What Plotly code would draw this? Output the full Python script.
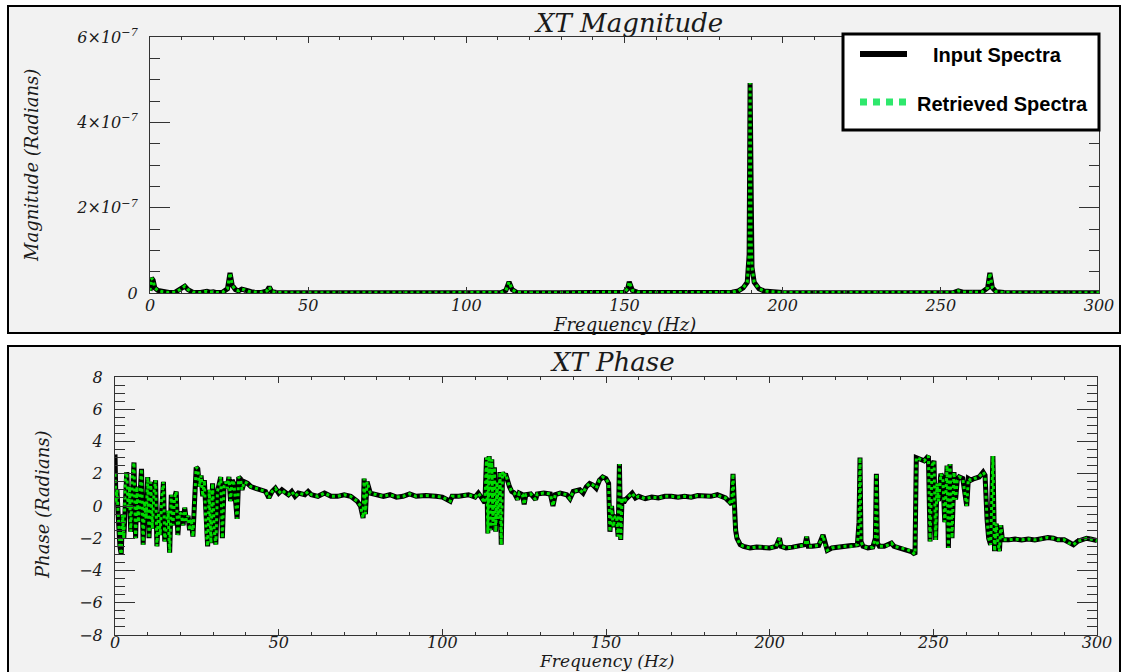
import plotly.graph_objects as go

W, H = 1122, 672

# ---------------- data ----------------
# Magnitude spectrum: frequency (Hz) and magnitude in units of 1e-7 radians
mag_freq = [0, 0.5, 1.0, 1.5, 2.5, 4, 6, 8, 10, 11, 12, 13.5, 16, 18, 19, 20, 21, 23,
            24.5, 25.3, 26, 27, 28, 29, 30, 31, 32, 33, 35, 37, 37.7, 38.5, 40, 50, 65,
            66, 67, 85, 86, 87, 100, 111, 112.5, 113.5, 114.5, 116, 130, 150, 151,
            151.5, 152.5, 154, 157, 170, 180, 184, 186, 187.5, 188.8, 189.4, 189.7,
            190.0, 190.3, 191, 192.5, 194, 196, 200, 220, 254, 255.5, 257, 263, 264.8,
            265.5, 266.3, 267.5, 270, 285, 300]
mag_input_e7 = [0.05, 0.35, 0.30, 0.12, 0.06, 0.03, 0.01, 0.02, 0.10, 0.16, 0.08, 0.02,
                0.01, 0.04, 0.02, 0.03, 0.01, 0.02, 0.10, 0.47, 0.18, 0.08, 0.05, 0.09,
                0.07, 0.04, 0.03, 0.02, 0.01, 0.05, 0.14, 0.03, 0.01, 0.005, 0.005, 0.02,
                0.005, 0.005, 0.02, 0.005, 0.005, 0.01, 0.06, 0.26, 0.08, 0.01, 0.005,
                0.02, 0.10, 0.26, 0.06, 0.02, 0.01, 0.005, 0.01, 0.02, 0.05, 0.12, 0.25,
                0.90, 4.92, 1.64, 0.60, 0.25, 0.10, 0.05, 0.03, 0.01, 0.005, 0.01, 0.05,
                0.02, 0.02, 0.12, 0.47, 0.12, 0.03, 0.01, 0.005, 0.005]
mag_retrieved_e7 = [0.05, 0.35, 0.30, 0.12, 0.06, 0.03, 0.01, 0.02, 0.10, 0.16, 0.08, 0.02,
                    0.01, 0.04, 0.02, 0.03, 0.01, 0.02, 0.10, 0.47, 0.18, 0.08, 0.05, 0.09,
                    0.07, 0.04, 0.03, 0.02, 0.01, 0.05, 0.14, 0.03, 0.01, 0.005, 0.005, 0.02,
                    0.005, 0.005, 0.02, 0.005, 0.005, 0.01, 0.06, 0.26, 0.08, 0.01, 0.005,
                    0.02, 0.10, 0.26, 0.06, 0.02, 0.01, 0.005, 0.01, 0.02, 0.05, 0.12, 0.25,
                    0.90, 4.92, 1.30, 0.60, 0.25, 0.10, 0.05, 0.03, 0.01, 0.005, 0.01, 0.05,
                    0.02, 0.02, 0.12, 0.47, 0.12, 0.03, 0.01, 0.005, 0.005]

# Phase spectrum: frequency (Hz) and phase (radians)
phase_freq = [0.0, 0.3, 0.6, 0.9, 1.2, 1.5, 1.9, 2.3, 2.7, 3.2, 3.6, 4.0, 4.4, 4.8, 5.3,
              5.8, 6.3, 6.7, 7.2, 7.7, 8.1, 8.6, 9.0, 9.5, 10.0, 10.4, 10.9, 11.4, 11.9,
              12.4, 12.8, 13.3, 13.8, 14.3, 14.8, 15.2, 15.7, 16.2, 16.7, 17.2, 17.7,
              18.2, 18.7, 19.2, 19.7, 20.2, 20.8, 21.3, 21.8, 22.3, 22.8, 23.3, 23.8,
              24.3, 24.8, 25.3, 25.8, 26.3, 26.8, 27.3, 27.8, 28.3, 28.8, 29.3, 29.8,
              30.3, 30.8, 31.3, 31.8, 32.3, 32.8, 33.3, 33.8, 34.3, 34.8, 35.3, 35.8,
              36.3, 36.8, 37.3, 37.8, 38.3, 38.8, 39.5, 40.5, 41.5, 43, 44.5, 46, 47,
              48, 49, 50, 51, 52, 53, 54, 55, 56, 58, 59, 60, 62, 64, 66, 68, 70, 72,
              74, 75, 75.8, 76.1, 76.5, 77, 78, 80, 82, 84, 86, 88, 90, 92, 95, 98, 100,
              102.4, 103, 105, 108, 110, 111, 112, 113, 113.5, 113.9, 114.3, 114.7,
              115.1, 115.5, 115.9, 116.3, 116.7, 117.1, 117.6, 118.0, 118.4, 118.8,
              119.3, 119.8, 120.5, 121.2, 122, 123, 123.5, 124.5, 125, 125.5, 127,
              128.5, 129, 131, 133, 133.8, 134.5, 136, 138, 139, 140, 142, 143, 144,
              145, 146, 147, 148, 149, 150, 150.8, 151.2, 151.7, 152.2, 152.7, 153.2,
              153.7, 154.1, 154.5, 154.9, 155.4, 156, 157, 158, 159, 160, 162, 164, 166,
              168, 170, 172, 174, 176, 178, 180, 182, 184, 185, 186.5, 187.5, 188.4,
              188.8, 189.2, 189.6, 190, 191, 192, 194, 196, 198, 200, 202, 203, 203.5,
              205, 207, 209, 210.8, 211.3, 211.8, 213, 215, 216.3, 216.9, 217.6, 219,
              221, 223, 225, 226.8, 227.3, 227.6, 227.9, 228.5, 230, 231.5, 232.3, 232.6,
              232.9, 233.5, 235, 236.5, 237.2, 238, 240, 242, 243.5, 244.4, 244.8, 246,
              247.2, 248.5, 249.0, 249.6, 250.2, 250.7, 251.1, 251.6, 252.3, 252.9,
              253.5, 254.2, 254.6, 255.1, 255.7, 256.3, 256.8, 257.3, 257.9, 259, 260.2,
              260.7, 261.5, 262.5, 264, 265.2, 265.8, 266.4, 266.9, 267.5, 268.2, 268.7,
              269.2, 269.7, 270.2, 270.6, 271.1, 273, 275, 277, 279, 281, 283, 285,
              286.7, 288, 290, 291.5, 292.8, 294, 295.5, 296.8, 298, 300]
phase_input = [3.2, 0.2, 1.0, -0.3, -1.8, -2.5, -3.0, -0.5, -2.0, 1.9, 2.1, -0.2, 1.2,
               -1.6, 1.8, 2.7, -2.0, 1.2, -1.0, 0.5, 2.3, -2.4, 0.3, -0.8, 1.8, -2.0, 1.5,
               -1.4, 0.8, 1.6, -2.5, -0.4, -1.8, 0.6, 1.5, -2.2, -1.0, -0.3, -2.9, 0.7,
               -1.2, 0.5, 0.9, -1.8, -0.4, -0.5, -1.2, -0.1, -0.9, -0.6, -1.5, -0.8, -1.9,
               0.5, 2.4, 2.3, 1.2, 1.9, 0.6, 1.6, -1.4, -2.5, 1.0, -2.3, 1.4, -1.5, -2.4,
               0.9, 1.4, 1.8, -2.0, 1.2, 1.5, 1.1, 1.8, 0.3, 1.6, 1.4, 0.4, -0.8, 1.8, 1.7,
               1.0, 1.5, 1.4, 1.2, 1.1, 1.0, 0.9, 0.5, 0.9, 1.1, 0.8, 1.0, 0.8, 0.7, 0.9,
               0.6, 0.8, 0.7, 0.9, 0.7, 0.6, 0.8, 0.6, 0.6, 0.7, 0.6, 0.3, 0.0, -0.75,
               1.7, -0.5, 1.5, 0.8, 0.7, 0.6, 0.7, 0.55, 0.6, 0.75, 0.6, 0.65, 0.6, 0.55,
               0.3, 0.6, 0.6, 0.7, 0.55, 0.8, 0.5, 0.2, 3.0, -1.7, 3.1, -1.5, 2.9, -1.2,
               2.4, -1.6, 1.5, -0.8, 2.1, -2.4, 2.1, 1.8, 2.0, 1.6, 1.2, 0.9, 0.8, 0.4,
               0.8, 0.7, 0.1, 0.7, 0.75, 0.4, 0.75, 0.8, 0.75, 0.0, 0.7, 0.8, 0.7, 0.45,
               0.9, 1.0, 0.8, 1.2, 1.4, 1.3, 1.1, 1.6, 1.8, 1.7, 1.4, -1.6, 0.0, -1.3,
               -0.7, -0.6, -1.9, 2.6, -2.1, 0.5, 0.2, 0.4, 0.6, 0.8, 0.5, 0.6, 0.45, 0.55,
               0.5, 0.6, 0.6, 0.55, 0.6, 0.55, 0.65, 0.6, 0.6, 0.7, 0.6, 0.5, 0.3, 0.1,
               2.0, -0.5, -1.5, -2.0, -2.4, -2.5, -2.6, -2.55, -2.55, -2.6, -2.5, -2.0,
               -2.5, -2.6, -2.55, -2.5, -2.4, -1.9, -2.5, -2.5, -2.45, -1.8, -2.4, -2.75,
               -2.6, -2.55, -2.5, -2.5, -2.4, -1.0, 3.0, -2.2, -2.5, -2.6, -2.55, -2.0,
               2.0, -2.3, -2.5, -2.5, -2.4, -2.3, -2.5, -2.6, -2.7, -2.85, -3.0, 3.0, 2.9,
               2.8, 3.1, -2.2, 2.5, 2.8, -2.1, 1.4, 0.3, 2.0, 1.7, -1.0, 2.5, -2.6, 2.6,
               -2.0, 2.1, 0.4, 1.6, 1.8, 1.7, 0.0, 1.7, 1.6, 1.7, 1.8, 2.1, 1.9, -0.8,
               -2.0, -2.4, 3.1, -2.8, -1.1, -2.2, -2.8, -1.2, -2.1, -2.1, -2.05, -2.1,
               -2.05, -2.1, -2.05, -1.95, -2.0, -2.1, -2.1, -2.3, -2.4, -2.2, -2.1, -2.0,
               -2.05, -2.15]
phase_retrieved = [2.0] + phase_input[1:]

legend_labels = ["Input Spectra", "Retrieved Spectra"]
mag_ticks_e7 = [0, 2, 4, 6]
mag_ticktext = ["0", "2×10<sup>−7</sup>", "4×10<sup>−7</sup>", "6×10<sup>−7</sup>"]
phase_ticks = [-8, -6, -4, -2, 0, 2, 4, 6, 8]
phase_ticktext = ["−8", "−6", "−4", "−2", "0", "2", "4", "6", "8"]
freq_ticks = [0, 50, 100, 150, 200, 250, 300]

# ---------------- styling ----------------
BOX_BG = "#f2f2f2"
GREEN = "#00dc00"
LEG_GREEN = "#2ee86c"
AX = "#333333"
SERIF = "DejaVu Serif"
TXT = "#1a1a1a"


def px(x):
    return x / W


def py(y):
    return 1 - y / H


fig = go.Figure()

fig.add_trace(go.Scatter(x=mag_freq, y=[v * 1e-7 for v in mag_input_e7], mode="lines",
                         line=dict(color="black", width=5), xaxis="x", yaxis="y",
                         showlegend=False, name=legend_labels[0]))
fig.add_trace(go.Scatter(x=mag_freq, y=[v * 1e-7 for v in mag_retrieved_e7], mode="lines",
                         line=dict(color=GREEN, width=3, dash="dot"), xaxis="x", yaxis="y",
                         showlegend=False, name=legend_labels[1]))
fig.add_trace(go.Scatter(x=phase_freq, y=phase_input, mode="lines",
                         line=dict(color="black", width=5), xaxis="x2", yaxis="y2",
                         showlegend=False, name=legend_labels[0]))
fig.add_trace(go.Scatter(x=phase_freq, y=phase_retrieved, mode="lines",
                         line=dict(color=GREEN, width=3, dash="dot"), xaxis="x2", yaxis="y2",
                         showlegend=False, name=legend_labels[1]))

tickfont = dict(family=SERIF, size=16, color=TXT, style="italic")

common_x = dict(range=[0, 300], tickvals=freq_ticks, ticks="inside", ticklen=6,
                tickwidth=1, tickcolor=AX, showline=True, linecolor=AX, linewidth=1,
                mirror="ticks", showgrid=False, zeroline=False, tickfont=tickfont,
                automargin=False, fixedrange=True,
                minor=dict(dtick=10, ticks="inside", ticklen=3, tickcolor=AX, showgrid=False))

common_y = dict(ticks="inside", ticklen=20, tickwidth=1, tickcolor=AX, showline=True,
                linecolor=AX, linewidth=1, mirror="ticks", showgrid=False, zeroline=False,
                tickfont=tickfont, automargin=False, fixedrange=True, ticklabelstandoff=8)

fig.update_layout(
    width=W, height=H, autosize=False,
    margin=dict(l=0, r=0, t=0, b=0),
    paper_bgcolor="white", plot_bgcolor="rgba(0,0,0,0)",
    showlegend=False,
    xaxis=dict(domain=[px(150), px(1099)], anchor="y", ticklabelstandoff=-2, **common_x),
    yaxis=dict(domain=[py(293), py(37)], anchor="x", range=[0, 6e-7],
               tickvals=[v * 1e-7 for v in mag_ticks_e7], ticktext=mag_ticktext,
               minor=dict(dtick=0.5e-7, ticks="inside", ticklen=10, tickcolor=AX,
                          showgrid=False), **common_y),
    xaxis2=dict(domain=[px(115), px(1097)], anchor="y2", ticklabelstandoff=-7, **common_x),
    yaxis2=dict(domain=[py(635), py(377)], anchor="x2", range=[-8, 8],
                tickvals=phase_ticks, ticktext=phase_ticktext,
                minor=dict(dtick=0.5, ticks="inside", ticklen=10, tickcolor=AX,
                           showgrid=False), **common_y),
)

shapes = [
    # panel boxes
    dict(type="rect", xref="paper", yref="paper", x0=px(8), x1=px(1120), y0=py(333),
         y1=py(6), line=dict(color="black", width=2), fillcolor=BOX_BG, layer="below"),
    dict(type="rect", xref="paper", yref="paper", x0=px(8), x1=px(1120), y0=py(690),
         y1=py(346), line=dict(color="black", width=2), fillcolor=BOX_BG, layer="below"),
    # legend box
    dict(type="rect", xref="paper", yref="paper", x0=px(843), x1=px(1099), y0=py(130),
         y1=py(34), line=dict(color="black", width=3), fillcolor="white", layer="above"),
    dict(type="line", xref="paper", yref="paper", x0=px(860), x1=px(907), y0=py(54),
         y1=py(54), line=dict(color="black", width=6), layer="above"),
    dict(type="line", xref="paper", yref="paper", x0=px(860), x1=px(907), y0=py(102),
         y1=py(102), line=dict(color=LEG_GREEN, width=7, dash="7px,6px"), layer="above"),
]

title_font = dict(family=SERIF, size=26, color=TXT, style="italic")
lab_font = dict(family=SERIF, size=18, color=TXT, style="italic")
lab2_font = dict(family=SERIF, size=17, color=TXT, style="italic")
ylab_font = dict(family=SERIF, size=18, color=TXT, style="italic")
leg_font = dict(family="Liberation Sans", size=20, color="black", weight="bold")

ann = [
    dict(text="XT Magnitude", x=px(628), y=py(23), font=title_font),
    dict(text="Frequency (Hz)", x=px(624), y=py(325), font=lab_font),
    dict(text="Magnitude (Radians)", x=px(31), y=py(166), font=ylab_font, textangle=-90),
    dict(text="XT Phase", x=px(612), y=py(362), font=title_font),
    dict(text="Frequency (Hz)", x=px(606), y=py(660.5), font=lab2_font),
    dict(text="Phase (Radians)", x=px(42), y=py(505), font=ylab_font, textangle=-90),
    dict(text=legend_labels[0], x=px(997), y=py(55), font=leg_font),
    dict(text=legend_labels[1], x=px(1002), y=py(104), font=leg_font),
]
for a in ann:
    a.update(xref="paper", yref="paper", showarrow=False, xanchor="center", yanchor="middle")

fig.update_layout(shapes=shapes, annotations=ann)

fig.write_html("out.html")
